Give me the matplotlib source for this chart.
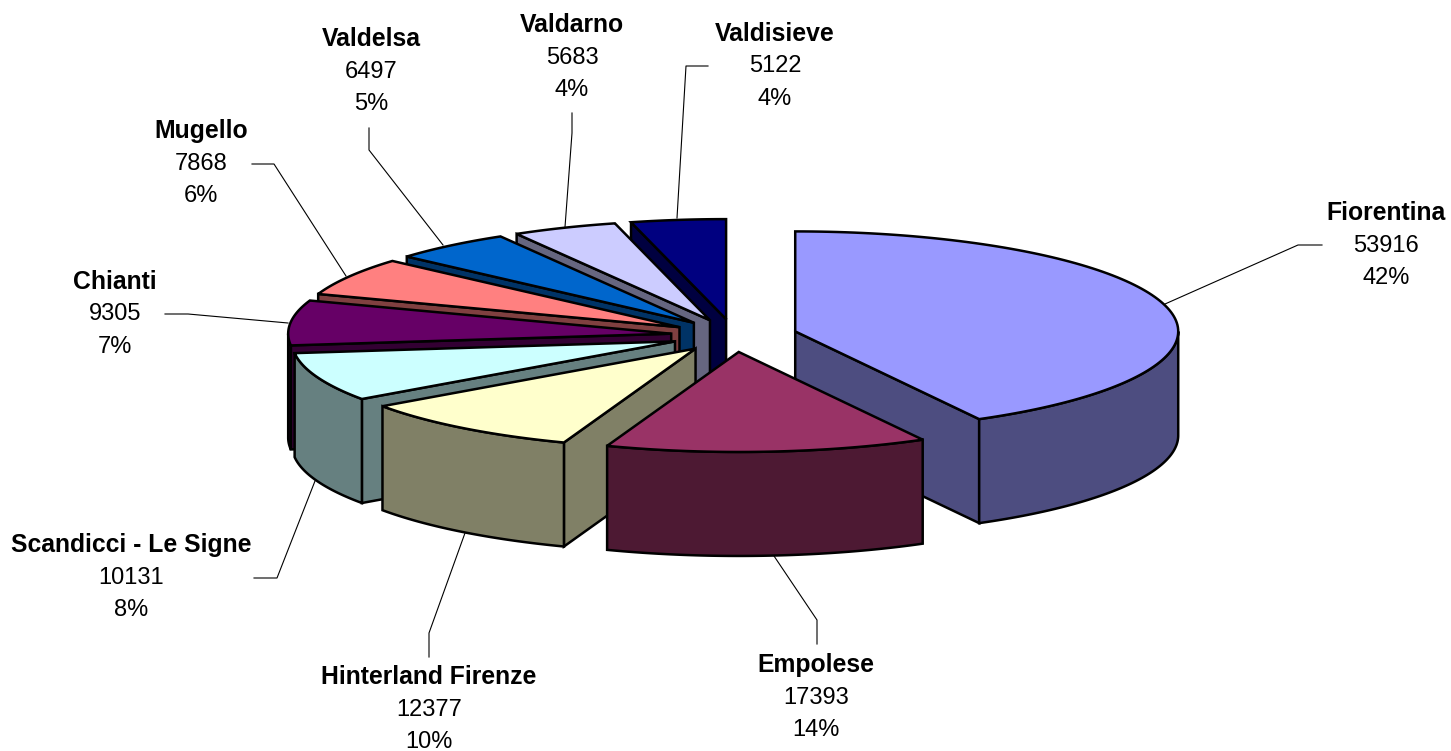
import numpy as np
import matplotlib
matplotlib.use("Agg")
import matplotlib.pyplot as plt
from matplotlib.patches import Polygon

plt.rcParams['font.family'] = ['Liberation Sans', 'DejaVu Sans']

# clockwise from 12 o'clock
NAMES = ['Fiorentina', 'Empolese', 'Hinterland Firenze', 'Scandicci - Le Signe', 'Chianti',
         'Mugello', 'Valdelsa', 'Valdarno', 'Valdisieve']
VALUES = [53916, 17393, 12377, 10131, 9305, 7868, 6497, 5683, 5122]
TOP_COLORS = ['#9999FF', '#993366', '#FFFFCC', '#CCFFFF', '#660066', '#FF8080', '#0066CC', '#CCCCFF', '#000080']
SIDE_COLORS = ['#4D4D80', '#4D1933', '#808066', '#668080', '#330033', '#804040', '#003366', '#666680', '#000040']

# label centre (x, y of first line) and leader line, in pixels
LABEL_POS = [(1386, 213), (816, 665), (429, 677), (131, 545), (115, 282),
             (201, 131), (371, 39), (572, 25), (775, 34)]
LEADERS = [[(1165, 304), (1298, 245), (1322, 245)],
           [(774, 556), (817, 620), (817, 644)],
           [(465, 533), (429, 633), (429, 657)],
           [(315, 481), (277, 578), (254, 578)],
           [(288, 323), (188, 314), (165, 314)],
           [(346, 276), (274, 164), (252, 164)],
           [(443, 245), (369, 150), (369, 128)],
           [(565, 227), (572, 133), (572, 113)],
           [(677, 218), (686, 66), (708, 66)]]

CX, CY = 734, 335.5
RX, RY = 383, 100
DEPTH = 104
EXPLODE = 0.165
LINE_STEP = 32.5


def rim(apex, theta):
    return np.column_stack([apex[0] + RX * np.sin(theta), apex[1] - RY * np.cos(theta)])


def draw_slice(ax, start, end, top_color, side_color, z):
    mid = (start + end) / 2
    apex = (CX + EXPLODE * RX * np.sin(mid), CY - EXPLODE * RY * np.cos(mid))
    down = np.array([0, DEPTH])
    style = dict(edgecolor='black', linewidth=1.8, joinstyle='miter', zorder=z)

    # radial walls, only the ones facing the viewer
    for theta, visible in ((start, np.sin(start) < 0), (end, np.sin(end) > 0)):
        if visible:
            p = rim(apex, np.array([theta]))[0]
            a = np.array(apex)
            ax.add_patch(Polygon([a, p, p + down, a + down], facecolor=side_color, **style))

    # outer wall for the front half of the ellipse
    lo, hi = max(start, np.pi / 2), min(end, 3 * np.pi / 2)
    if hi > lo:
        arc = rim(apex, np.linspace(lo, hi, 80))
        ax.add_patch(Polygon(np.vstack([arc, arc[::-1] + down]), facecolor=side_color, **style))

    thetas = np.linspace(start, end, 120)
    ax.add_patch(Polygon(np.vstack([[apex], rim(apex, thetas)]), facecolor=top_color, **style))


fig = plt.figure(figsize=(14.51, 7.51), dpi=100)
ax = fig.add_axes([0, 0, 1, 1])
ax.set_xlim(0, 1451)
ax.set_ylim(751, 0)
ax.axis('off')

total = sum(VALUES)
edges = np.concatenate([[0], np.cumsum(VALUES)]) / total * 2 * np.pi
mids = (edges[:-1] + edges[1:]) / 2

# back slices first
order = np.argsort(-np.cos(mids))
for z, i in enumerate(order):
    draw_slice(ax, edges[i], edges[i + 1], TOP_COLORS[i], SIDE_COLORS[i], 2 + z)

for i, name in enumerate(NAMES):
    xs, ys = zip(*LEADERS[i])
    ax.plot(xs, ys, color='black', linewidth=0.8, zorder=1)
    x, y = LABEL_POS[i]
    ax.text(x, y, name, ha='center', va='center', fontsize=17.8, fontweight='bold', color='black')
    ax.text(x, y + LINE_STEP, str(VALUES[i]), ha='center', va='center', fontsize=17, color='black')
    ax.text(x, y + 2 * LINE_STEP, "{}%".format(round(VALUES[i] / total * 100)), ha='center', va='center',
            fontsize=17, color='black')

plt.savefig("out.png", dpi=100)
plt.close('all')
